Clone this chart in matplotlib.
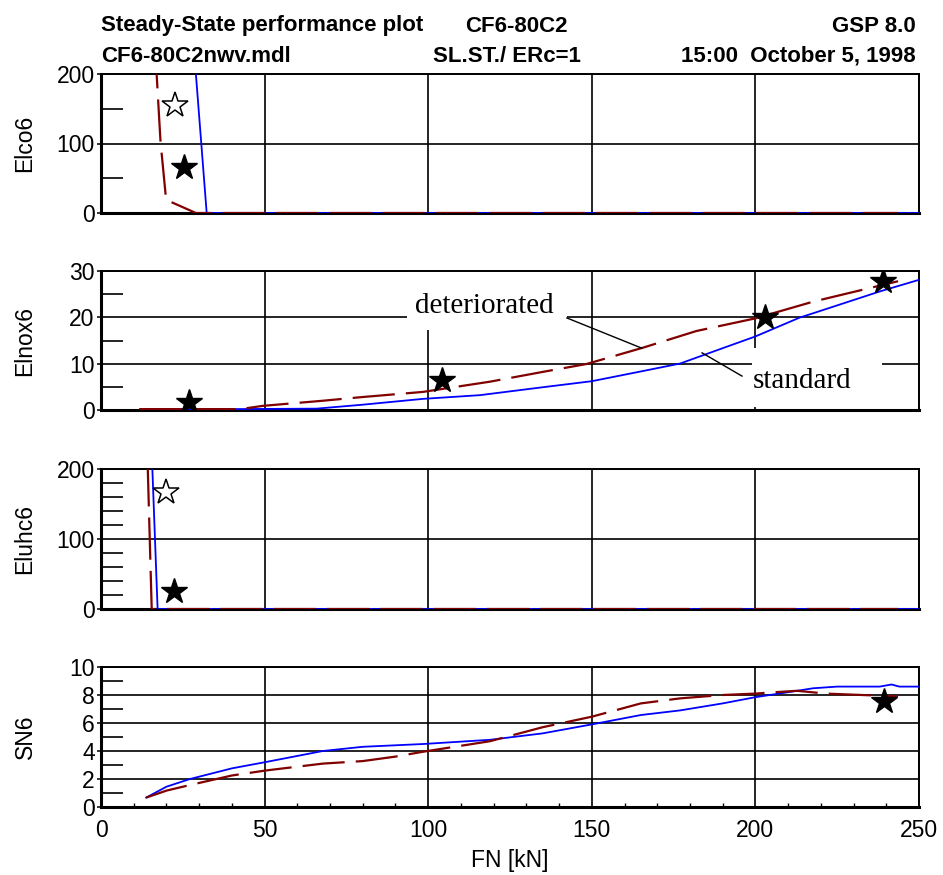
import matplotlib
matplotlib.use('Agg')
import matplotlib.pyplot as plt
from matplotlib.patches import Rectangle
from matplotlib.ticker import MultipleLocator

plt.rcParams['font.family'] = ['Liberation Sans', 'DejaVu Sans']

# ---------------- data ----------------
# Elco6
co_std_x = [27.0, 32.3, 60, 100, 150, 200, 250]
co_std_y = [321, 0, 0, 0, 0, 0, 0]
co_det_x = [16.5, 17.0, 18.2, 19.9, 29.0, 60, 100, 150, 200, 243.6]
co_det_y = [240, 200, 102, 19, 0, 0, 0, 0, 0, 0]
co_star_open = (22.6, 155.4)
co_star_x = [25.4]
co_star_y = [65.7]

# Elnox6
nox_std_x = [11.9, 40, 65.9, 80, 98.4, 115.8, 135, 150, 165, 177, 190, 199.9, 213.6, 217.6, 238, 250]
nox_std_y = [0.3, 0.3, 0.4, 1.25, 2.5, 3.3, 5.0, 6.3, 8.4, 10.1, 13.4, 15.9, 20.0, 20.9, 25.6, 28.1]
nox_det_x = [11.9, 42.5, 49.5, 67.8, 80, 98.4, 118.9, 135, 148.4, 165.6, 182, 199.9, 217.6, 243.6]
nox_det_y = [0.3, 0.3, 1.0, 2.1, 2.9, 4.0, 6.2, 8.3, 10.0, 13.5, 17.1, 19.8, 23.4, 27.8]
nox_star_x = [26.9, 104.3, 202.9, 239.1]
nox_star_y = [1.9, 6.5, 20.2, 27.9]

# Eluhc6
hc_std_x = [15.0, 17.3, 60, 100, 150, 200, 250]
hc_std_y = [287, 0, 0, 0, 0, 0, 0]
hc_det_x = [13.8, 15.5, 60, 100, 150, 200, 243.6]
hc_det_y = [283, 0, 0, 0, 0, 0, 0]
hc_star_open = (19.9, 167.6)
hc_star_x = [22.4]
hc_star_y = [26.1]

# SN6
sn_std_x = [13.8, 20, 27.2, 40, 50.1, 67.8, 80, 98.5, 118.9, 135, 150, 165, 177, 190, 199.9, 210, 217.6, 225, 238, 241.6, 244, 250]
sn_std_y = [0.67, 1.45, 2.0, 2.76, 3.2, 4.0, 4.3, 4.5, 4.8, 5.26, 5.9, 6.57, 6.9, 7.4, 7.84, 8.2, 8.48, 8.6, 8.6, 8.75, 8.6, 8.6]
sn_det_x = [13.8, 20, 27.2, 40, 50.1, 67.8, 80, 90, 98.5, 118.9, 135, 150, 165, 177, 190, 199.9, 206, 212.7, 221.6, 243.6]
sn_det_y = [0.67, 1.17, 1.57, 2.25, 2.6, 3.1, 3.28, 3.6, 3.95, 4.7, 5.7, 6.45, 7.4, 7.76, 8.0, 8.1, 8.2, 8.3, 8.1, 7.9]
sn_star_x = [239.4]
sn_star_y = [7.57]

ylabels = ['Elco6', 'Elnox6', 'Eluhc6', 'SN6']
ylims = [200, 30, 200, 10]
ymajor = [100, 10, 100, 2]
yminor = [50, 5, 20, 1]
xlabel = 'FN [kN]'

title_left_1 = 'Steady-State performance plot'
title_mid_1 = 'CF6-80C2'
title_right_1 = 'GSP 8.0'
title_left_2 = 'CF6-80C2nwv.mdl'
title_mid_2 = 'SL.ST./ ERc=1'
title_right_2 = '15:00  October 5, 1998'

# ---------------- figure ----------------
W, H = 943, 875
fig = plt.figure(figsize=(W / 100, H / 100), dpi=100)

def rect(top, bot, left=101, right=919):
    return [left / W, 1 - bot / H, (right - left) / W, (bot - top) / H]

panel_px = [(74, 213), (271, 410.5), (469, 609), (667, 807)]
axes = [fig.add_axes(rect(t, b)) for t, b in panel_px]

BLUE = '#0000FF'
RED = '#800000'
FS = 16.5

series = [
    (co_std_x, co_std_y, co_det_x, co_det_y),
    (nox_std_x, nox_std_y, nox_det_x, nox_det_y),
    (hc_std_x, hc_std_y, hc_det_x, hc_det_y),
    (sn_std_x, sn_std_y, sn_det_x, sn_det_y),
]
stars = [(co_star_x, co_star_y), (nox_star_x, nox_star_y), (hc_star_x, hc_star_y), (sn_star_x, sn_star_y)]
open_stars = [co_star_open, None, hc_star_open, None]

for i, ax in enumerate(axes):
    sx, sy, dx, dy = series[i]
    ax.set_xlim(0, 250)
    ax.set_ylim(0, ylims[i])
    ax.set_axisbelow(True)
    ax.grid(True, which='major', color='black', lw=1.2)
    ax.plot(sx, sy, color=BLUE, lw=1.3, zorder=3)
    ax.plot(dx, dy, color=RED, lw=1.6, dashes=(19, 5), zorder=3.1)
    ax.plot(stars[i][0], stars[i][1], ls='none', marker='*', ms=19, color='black', zorder=5)
    if open_stars[i] is not None:
        ax.plot([open_stars[i][0]], [open_stars[i][1]], ls='none', marker='*', ms=19,
                markerfacecolor='white', markeredgecolor='black', markeredgewidth=1.1, zorder=5)
    ax.xaxis.set_major_locator(MultipleLocator(50))
    ax.yaxis.set_major_locator(MultipleLocator(ymajor[i]))
    ax.yaxis.set_minor_locator(MultipleLocator(yminor[i]))
    ax.tick_params(axis='y', which='major', direction='out', length=3, width=1.1,
                   labelsize=FS, pad=1.5)
    ax.tick_params(axis='y', which='minor', direction='in', length=16, width=1.2)
    ax.tick_params(axis='x', which='major', length=0, labelsize=FS, pad=8.5)
    for s in ['left', 'bottom']:
        ax.spines[s].set_linewidth(2.2)
    for s in ['top', 'right']:
        ax.spines[s].set_linewidth(1.4)
    ax.set_ylabel(ylabels[i], fontsize=FS, va='center')
    ax.yaxis.set_label_coords(-0.0929, 0.5)
    if i < 3:
        ax.tick_params(axis='x', labelbottom=False)

ax4 = axes[3]
ax4.xaxis.set_minor_locator(MultipleLocator(10))
ax4.tick_params(axis='x', which='minor', direction='in', length=3, width=1.0)
ax4.set_xlabel(xlabel, fontsize=FS, va='center')
ax4.xaxis.set_label_coords(0.5, -0.38)

# annotations in Elnox6 panel
ax2 = axes[1]
ax2.add_patch(Rectangle((93.5, 17.3), 48.9, 14, facecolor='white', edgecolor='none', zorder=1.5, clip_on=True))
ax2.add_patch(Rectangle((199.0, 0.75), 39.6, 12.65, facecolor='white', edgecolor='none', zorder=1.5, clip_on=True))
ax2.text(117.3, 20.97, 'deteriorated', family=['Liberation Serif', 'DejaVu Serif'], fontsize=21,
         ha='center', va='baseline', zorder=6)
ax2.text(214.4, 4.77, 'standard', family=['Liberation Serif', 'DejaVu Serif'], fontsize=21,
         ha='center', va='baseline', zorder=6)
ax2.plot([142.4, 165.3], [19.9, 13.4], color='black', lw=1.0, zorder=4)
ax2.plot([183.7, 195.9], [12.4, 7.4], color='black', lw=1.0, zorder=4)

# header texts
y1 = 1 - 31.5 / H
y2 = 1 - 61.5 / H
kw = dict(fontsize=16, fontweight='bold', va='baseline')
fig.text(101 / W, y1, title_left_1, ha='left', **kw)
fig.text(465 / W, y1, title_mid_1, ha='left', **kw)
fig.text(916 / W, y1, title_right_1, ha='right', **kw)
fig.text(101 / W, y2, title_left_2, ha='left', **kw)
fig.text(433 / W, y2, title_mid_2, ha='left', **kw)
fig.text(916 / W, y2, title_right_2, ha='right', **kw)

fig.savefig('out.png', dpi=100, facecolor='white')
